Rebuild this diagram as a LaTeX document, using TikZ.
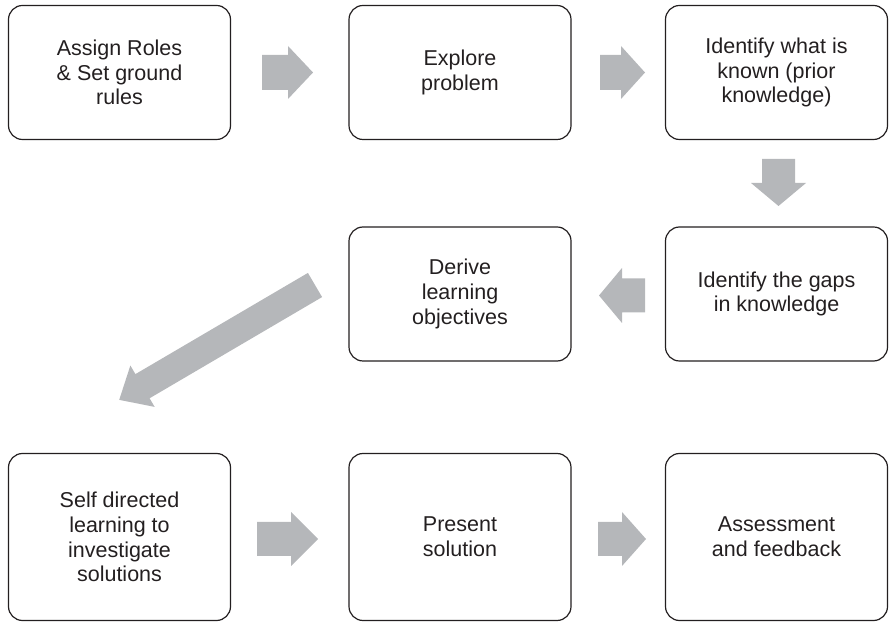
\documentclass[tikz,border=0pt]{standalone}
\usepackage{fontspec}
\setmainfont{Liberation Sans}
\definecolor{arrowgray}{RGB}{181,183,186}
\definecolor{inkgray}{RGB}{35,31,32}
\newcommand{\barrow}[7]{%
  \fill[arrowgray,shift={(#1,#2)},rotate=#3]
    (0,-#6/2) -- (#4-#5,-#6/2) -- (#4-#5,-#7/2) -- (#4,0)
    -- (#4-#5,#7/2) -- (#4-#5,#6/2) -- (0,#6/2) -- cycle;}
\begin{document}
\begin{tikzpicture}[x=1pt,y=1pt,
  stepbox/.style={draw=inkgray,line width=1.2pt,rounded corners=14pt,
    minimum width=222pt,align=center,inner sep=0pt,text=inkgray,
    font=\fontsize{21.5pt}{24.8pt}\selectfont},
  rowa/.style={stepbox,minimum height=134pt},
  rowc/.style={stepbox,minimum height=167pt}]
\useasboundingbox (0,0) rectangle (889,624);
% boxes (y = 624 - pixel y)
\node[rowa] (b1) at (119.5,551.5) {Assign Roles\\\& Set ground\\rules};
\node[rowa] (b2) at (460,551.5) {Explore\\problem};
\node[rowa] (b3) at (776.5,551.5) {Identify what is\\known (prior\\knowledge)};
\node[rowa] (b4) at (460,330) {Derive\\learning\\objectives};
\node[rowa] (b5) at (776.5,330) {Identify the gaps\\in knowledge};
\node[rowc] (b6) at (119.5,87) {Self directed\\learning to\\investigate\\solutions};
\node[rowc] (b7) at (460,87) {Present\\solution};
\node[rowc] (b8) at (776.5,87) {Assessment\\and feedback};
% block arrows: x y angle length headlen shaftw headw
\barrow{262}{551.5}{0}{51}{25}{35}{53}
\barrow{600}{551.5}{0}{45}{24}{35}{53}
\barrow{778.5}{465}{-90}{47}{23}{33}{55}
\barrow{645}{328.5}{180}{46}{23}{34}{55}
\barrow{315}{339}{210.4}{227}{27}{28}{48}
\barrow{257}{85}{0}{61}{27}{34}{54}
\barrow{598}{85}{0}{48}{24}{34}{54}
\end{tikzpicture}
\end{document}
